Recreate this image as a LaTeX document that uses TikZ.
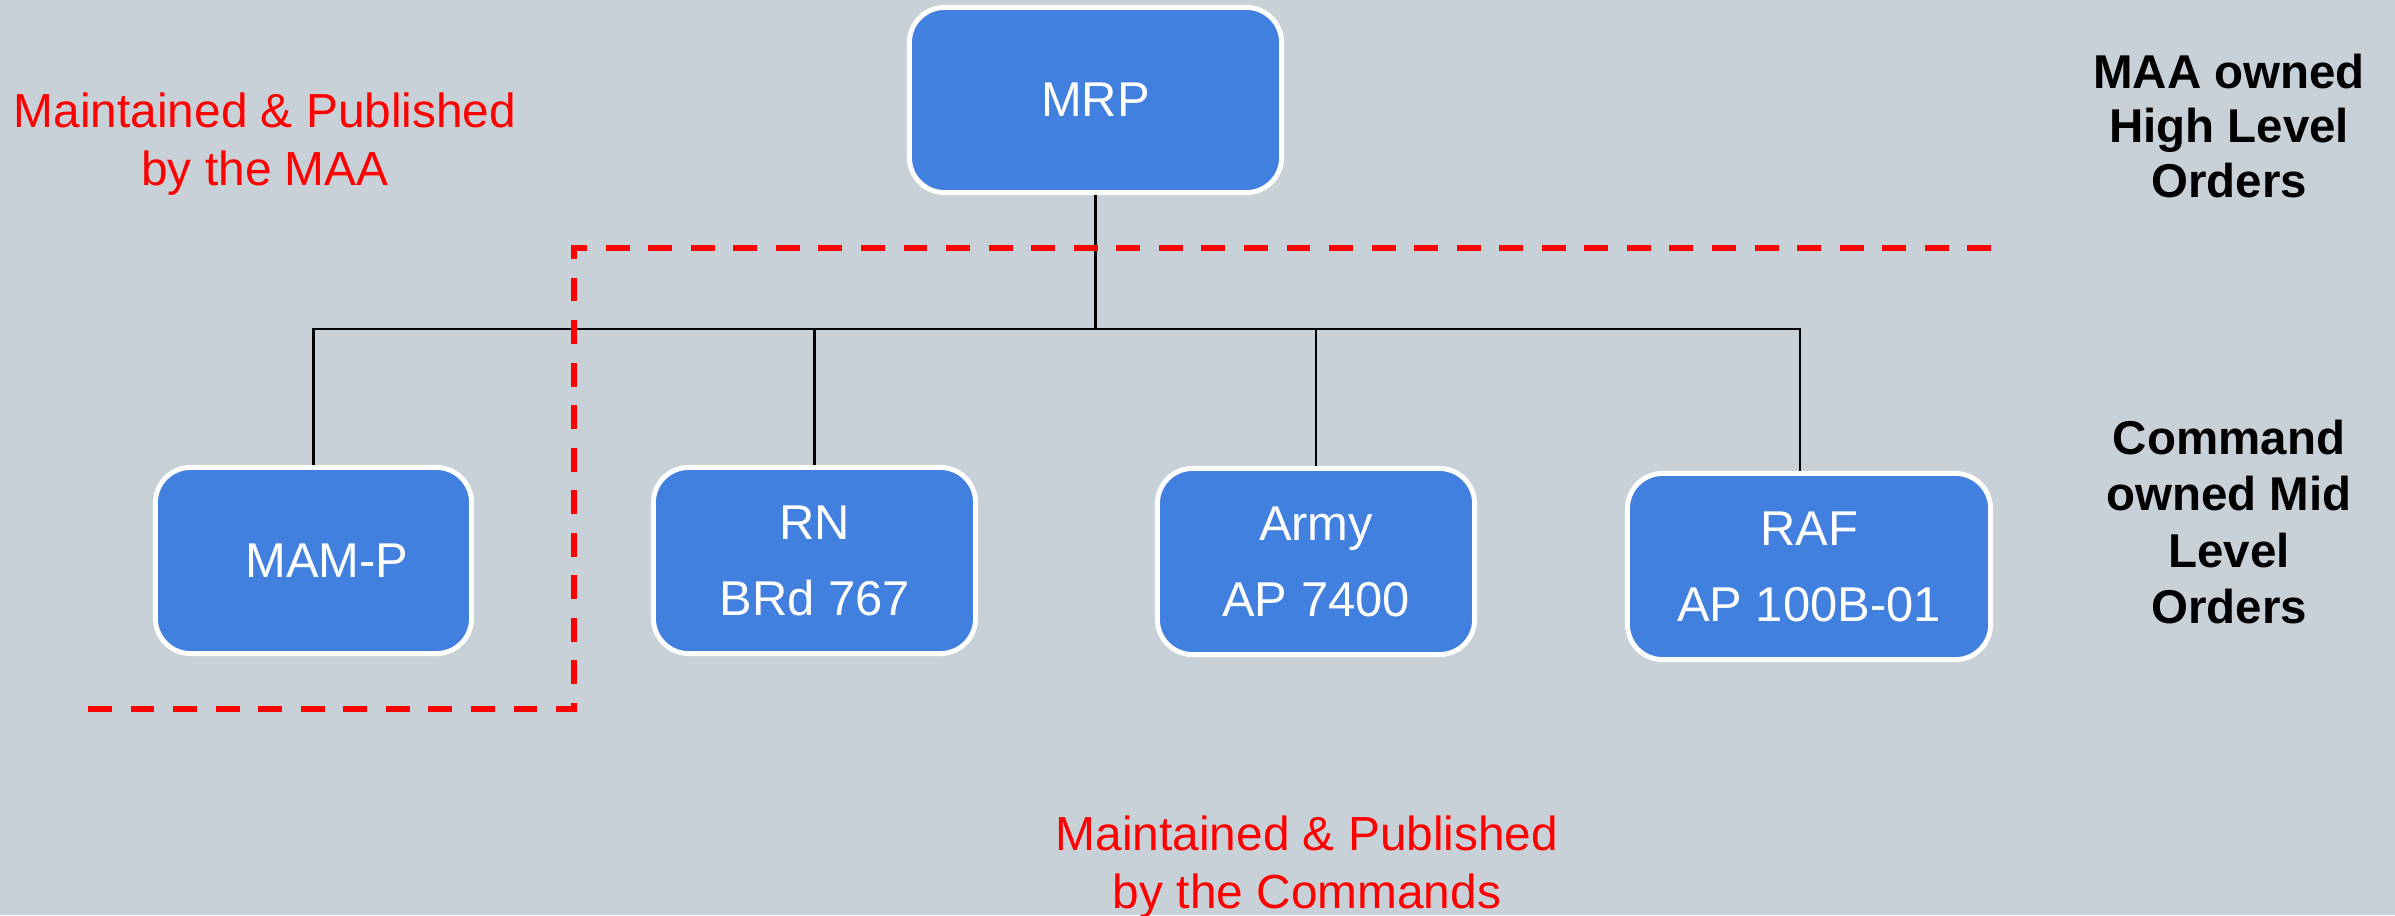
\documentclass[tikz,border=0pt]{standalone}
\usepackage{fontspec}
\setmainfont{Liberation Sans}
\definecolor{bgc}{RGB}{200,209,215}
\definecolor{boxblue}{RGB}{65,128,223}
\definecolor{redc}{RGB}{255,0,0}
\tikzset{
  orgbox/.style={rectangle, rounded corners=10pt, fill=boxblue, draw=white, line width=1.4pt,
    text=white, inner sep=0pt, align=center, minimum height=1.86cm,
    font=\fontsize{13.9}{21.6}\selectfont},
  conn/.style={draw=black, line width=0.6pt},
  reddash/.style={draw=redc, line width=1.7pt, dash pattern=on 6.8pt off 5.3pt},
  redtext/.style={text=redc, inner sep=0pt, align=center, font=\fontsize{13.6}{16.4}\selectfont},
  sidetext/.style={text=black, inner sep=0pt, align=center}
}
\begin{document}
\begin{tikzpicture}[x=0.01cm,y=-0.01cm]
\fill[bgc] (0,0) rectangle (2395,915);
\useasboundingbox (0,0) rectangle (2395,915);

% boxes
\node[orgbox, minimum width=3.72cm, minimum height=1.85cm] (MRP) at (1095.5,100) {MRP};
\node[orgbox, minimum width=3.16cm] (MAM) at (313.5,560.5) {\hspace*{0.27cm}MAM-P};
\node[orgbox, minimum width=3.22cm] (RN) at (814.5,560.5) {RN\\BRd 767};
\node[orgbox, minimum width=3.17cm] (Army) at (1316,561.5) {Army\\AP 7400};
\node[orgbox, minimum width=3.63cm] (RAF) at (1809,566.5) {RAF\\AP 100B-01};

% connectors
\coordinate (bus) at (0,329);
\coordinate (raftop) at ([xshift=-0.09cm]RAF.north);
\draw[conn] (MRP.south) -- (MRP.south |- bus);
\draw[conn] (MAM.north) -- (MAM.north |- bus) -- (raftop |- bus) -- (raftop);
\draw[conn] (RN.north) -- (RN.north |- bus);
\draw[conn] (Army.north) -- (Army.north |- bus);

% dashed boundary
\coordinate (dA) at (88,709);
\coordinate (dB) at (574,709);
\coordinate (dC) at (574,248);
\coordinate (dD) at (1991,248);
\draw[reddash] (dA) -- (dB) -- (dC) -- (dD);

% labels
\node[redtext] (lblMAA) at (265,144) {Maintained \& Published\\by the MAA};
\node[redtext] (lblCmd) at (1307,867) {Maintained \& Published\\by the Commands};
\node[sidetext, font=\fontsize{13.5}{15.4}\selectfont\bfseries] (lblHigh) at (2229,126) {MAA owned\\High Level\\Orders};
\node[sidetext, font=\fontsize{13.5}{16.1}\selectfont\bfseries] (lblMid) at (2229,522) {Command\\owned Mid\\Level\\Orders};
\end{tikzpicture}
\end{document}
